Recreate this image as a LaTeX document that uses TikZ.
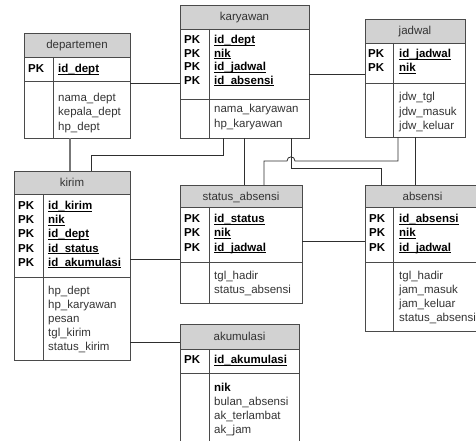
\documentclass[tikz,border=0pt]{standalone}
\usepackage{fontspec}
\setmainfont{Liberation Sans}
\usetikzlibrary{calc}
\definecolor{hdr}{HTML}{D2D2D2}
\definecolor{bord}{HTML}{4A4A4A}
\definecolor{txt}{HTML}{333333}
\definecolor{connc}{HTML}{2E2E2E}
\definecolor{connl}{HTML}{777777}
\newcommand\ukey[1]{\setbox0=\hbox{\bfseries #1}\rlap{\rule[-1.8pt]{\wd0}{0.75pt}}\box0}
\newcommand\tlist[7]{\foreach[count=\i from 0] \txt in {#7} {\node[#6] (#1\i) at ($(#2.north west)+(#3,#4+#5*\i)$) {\txt};}}
\newcommand\entity[9]{%
  \fill[hdr] (#2,#3) rectangle ++(#4,#6);
  \node[entbox, minimum width=#4pt, minimum height=#5pt] (#1) at (#2,#3) {};
  \draw[entline] ($(#1.north west)+(0,#6)$) -- ++(#4,0);
  \draw[entline] ($(#1.north west)+(0,#7)$) -- ++(#4,0);
  \draw[entline] ($(#1.north west)+(#8,#6)$) -- ($(#1.south west)+(#8,0)$);
  \node[titletext] (#1-t) at ($(#1.north west)+(#4/2,#6/2+4)$) {#9};
}
\tikzset{
  x=1pt, y=-1pt,
  entbox/.style={draw=bord, line width=0.8pt, anchor=north west, inner sep=0pt, outer sep=0pt},
  entline/.style={draw=bord, line width=0.8pt},
  titletext/.style={anchor=base, inner sep=0pt, text=txt, font=\fontsize{11.5}{14}\selectfont},
  pklab/.style={anchor=base west, inner sep=0pt, text=black, font=\fontsize{11.5}{14}\selectfont\bfseries},
  keytxt/.style={anchor=base west, inner sep=0pt, text=black, font=\fontsize{11.5}{14}\selectfont\bfseries},
  attrtxt/.style={anchor=base west, inner sep=0pt, text=txt, font=\fontsize{11.5}{14}\selectfont},
  conn/.style={draw=connc, line width=0.8pt},
  connlight/.style={draw=connl, line width=1.6pt},
}
\begin{document}
\begin{tikzpicture}
\useasboundingbox (0,0) rectangle (476,441);
\clip (0,0) rectangle (476,441);

% entities: id, x, y, w, h, header h, pk bottom, divider, title
\entity{dep}{24}{33}{106}{105}{24}{48}{29}{departemen}
\tlist{dep-p}{dep}{4}{40}{14}{pklab}{PK}
\tlist{dep-k}{dep}{34}{40}{14}{keytxt}{\ukey{id\_dept}}
\tlist{dep-a}{dep}{34}{69}{14}{attrtxt}{nama\_dept,kepala\_dept,hp\_dept}

\entity{kar}{180}{5}{129}{133}{24}{94}{29}{karyawan}
\tlist{kar-p}{kar}{4}{39}{13.4}{pklab}{PK,PK,PK,PK}
\tlist{kar-k}{kar}{34}{39}{13.4}{keytxt}{\ukey{id\_dept},\ukey{nik},\ukey{id\_jadwal},\ukey{id\_absensi}}
\tlist{kar-a}{kar}{34}{108}{14.5}{attrtxt}{nama\_karyawan,hp\_karyawan}

\entity{jad}{365}{19}{100}{118}{24}{64}{28}{jadwal}
\tlist{jad-p}{jad}{3}{39}{14}{pklab}{PK,PK}
\tlist{jad-k}{jad}{34}{39}{14}{keytxt}{\ukey{id\_jadwal},\ukey{nik}}
\tlist{jad-a}{jad}{34}{82}{14}{attrtxt}{jdw\_tgl,jdw\_masuk,jdw\_keluar}

\entity{kir}{14}{171}{116}{189}{23}{106}{29}{kirim}
\tlist{kir-p}{kir}{4}{38.5}{14.2}{pklab}{PK,PK,PK,PK,PK}
\tlist{kir-k}{kir}{34}{38.5}{14.2}{keytxt}{\ukey{id\_kirim},\ukey{nik},\ukey{id\_dept},\ukey{id\_status},\ukey{id\_akumulasi}}
\tlist{kir-a}{kir}{34}{123}{14.2}{attrtxt}{hp\_dept,hp\_karyawan,pesan,tgl\_kirim,status\_kirim}

\entity{sta}{180}{185}{122}{118}{22}{77}{29}{status\_absensi}
\tlist{sta-p}{sta}{4}{37.5}{14.3}{pklab}{PK,PK,PK}
\tlist{sta-k}{sta}{34}{37.5}{14.3}{keytxt}{\ukey{id\_status},\ukey{nik},\ukey{id\_jadwal}}
\tlist{sta-a}{sta}{34}{94}{14}{attrtxt}{tgl\_hadir,status\_absensi}

\entity{abs}{365}{185}{115}{146}{22}{77}{28}{absensi}
\tlist{abs-p}{abs}{4}{37.5}{14.3}{pklab}{PK,PK,PK}
\tlist{abs-k}{abs}{34}{37.5}{14.3}{keytxt}{\ukey{id\_absensi},\ukey{nik},\ukey{id\_jadwal}}
\tlist{abs-a}{abs}{34}{94}{14}{attrtxt}{tgl\_hadir,jam\_masuk,jam\_keluar,status\_absensi}

\entity{aku}{180}{324}{119}{136}{25}{49}{29}{akumulasi}
\tlist{aku-p}{aku}{4}{39.5}{14}{pklab}{PK}
\tlist{aku-k}{aku}{34}{39.5}{14}{keytxt}{\ukey{id\_akumulasi}}
\tlist{aku-n}{aku}{34}{67.5}{14}{keytxt}{nik}
\tlist{aku-a}{aku}{34}{81.5}{14}{attrtxt}{bulan\_absensi,ak\_terlambat,ak\_jam}

% connectors
\draw[conn] ($(dep.north east)+(0,50)$) -- ($(kar.north west)+(0,78)$);
\draw[conn] ($(kar.north east)+(0,69)$) -- ($(jad.north west)+(0,55)$);
\draw[connlight] ($(dep.south west)+(46,0)$) -- ($(kir.north west)+(56,0)$);
\draw[conn] ($(kar.south west)+(43,0)$) -- ++(0,17) -| ($(kir.north west)+(77,0)$);
\draw[conn] ($(kar.south west)+(64,0)$) -- ($(sta.north west)+(64,0)$);
\draw[conn] ($(kar.south west)+(111,0)$) -- ++(0,30) -| ($(abs.north west)+(16,0)$);
\draw[conn] ($(sta.north west)+(84,0)$) -- ++(0,-24) -- ++(23,0)
  .. controls +(0,-5.5) and +(0,-5.5) .. ++(8,0) -| ($(jad.south west)+(33,0)$);
\draw[conn] ($(jad.south west)+(50,0)$) -- ($(abs.north west)+(50,0)$);
\draw[conn] ($(kir.north east)+(0,88)$) -- ($(sta.north west)+(0,74)$);
\draw[conn] ($(sta.north east)+(0,56)$) -- ($(abs.north west)+(0,56)$);
\draw[conn] ($(kir.north east)+(0,171)$) -- ($(aku.north west)+(0,18)$);
\end{tikzpicture}
\end{document}
